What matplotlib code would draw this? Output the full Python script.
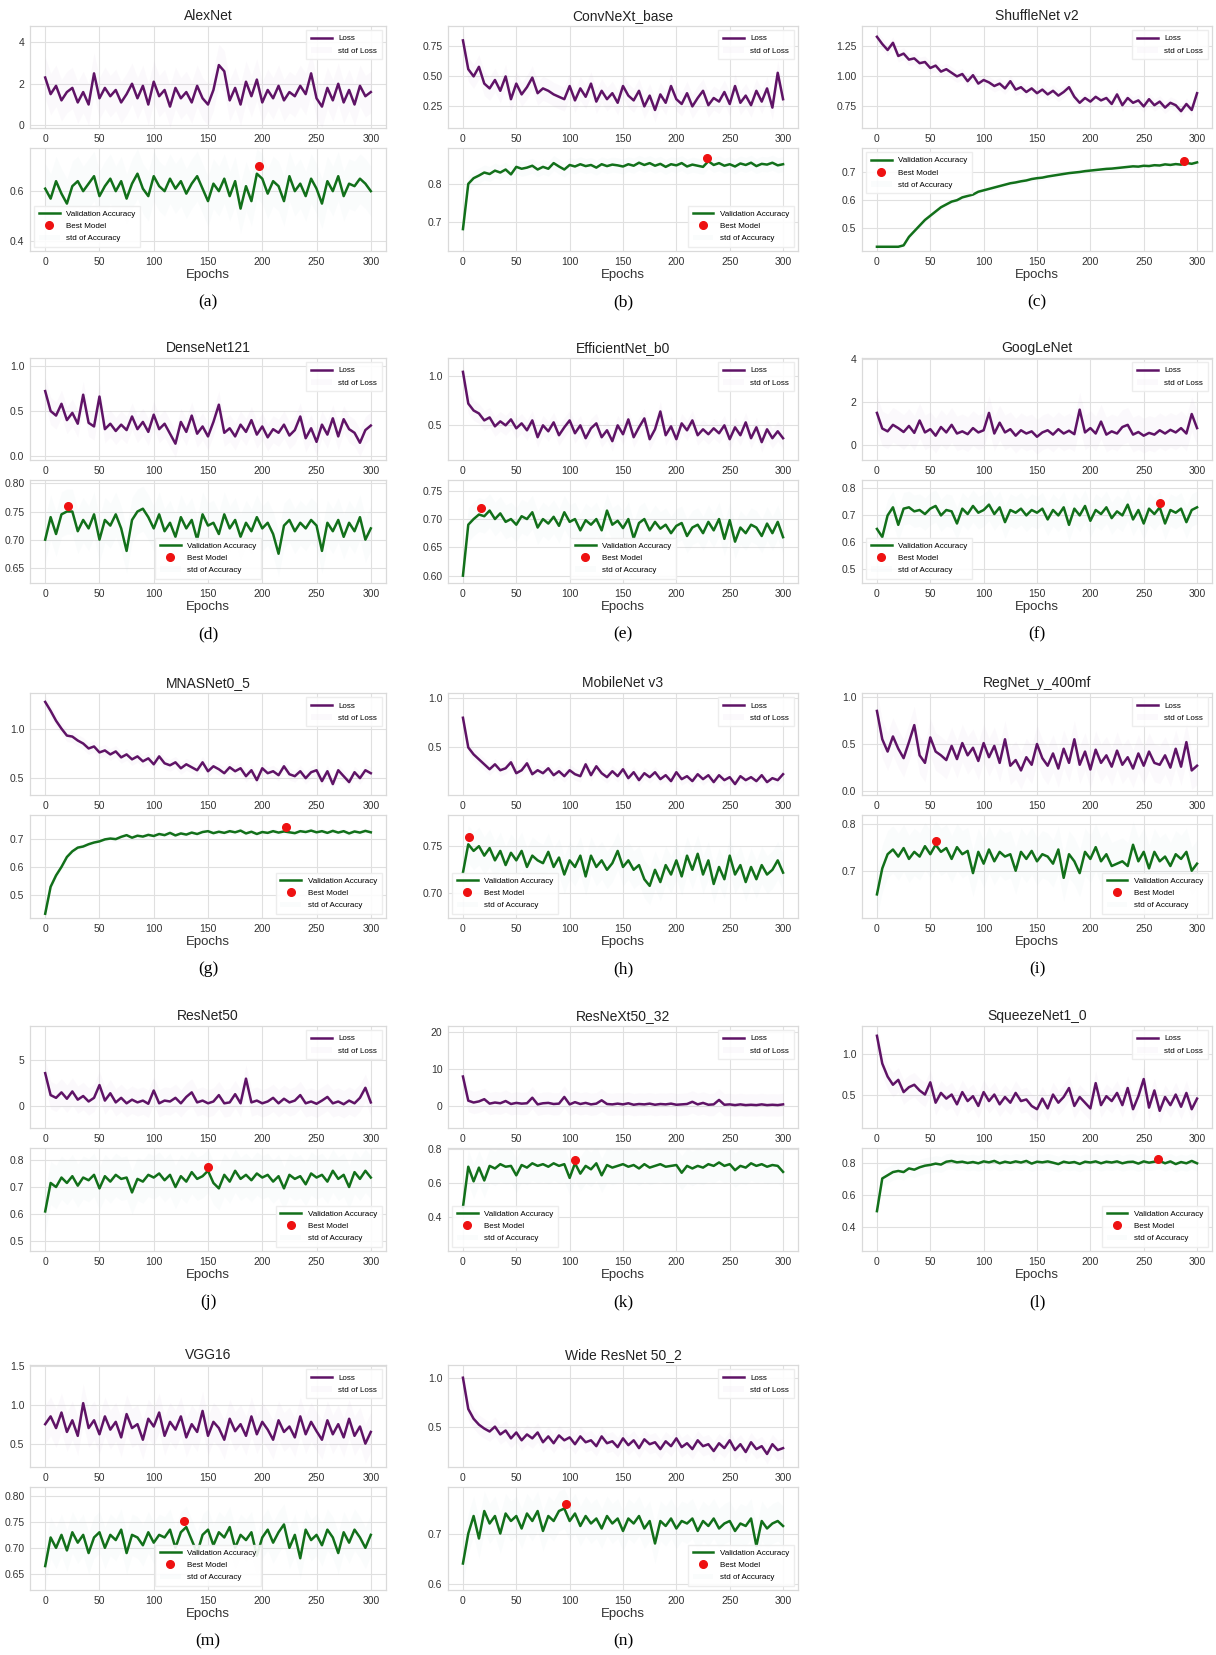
"""Training curves (loss / validation accuracy) for the 14 CNN backbones."""

import numpy as np
import matplotlib.pyplot as plt

plt.rcParams["font.family"] = ["Liberation Sans", "DejaVu Sans"]

# epochs are sampled every 5 epochs
EPOCHS = np.arange(0, 301, 5)

MODELS = ["AlexNet", "ConvNeXt_base", "ShuffleNet v2", "DenseNet121", "EfficientNet_b0",
          "GoogLeNet", "MNASNet0_5", "MobileNet v3", "RegNet_y_400mf", "ResNet50",
          "ResNeXt50_32", "SqueezeNet1_0", "VGG16", "Wide ResNet 50_2"]
CAPTIONS = ["(a)", "(b)", "(c)", "(d)", "(e)", "(f)", "(g)", "(h)", "(i)", "(j)",
            "(k)", "(l)", "(m)", "(n)"]

alexnet_loss = [2.3, 1.5, 1.9, 1.2, 1.6, 1.8, 1.1, 1.6, 1.0, 2.5,
                1.3, 1.8, 1.4, 1.7, 1.1, 1.5, 2.0, 1.3, 1.9, 1.0,
                2.1, 1.4, 1.7, 0.9, 1.8, 1.3, 1.6, 1.1, 1.9, 1.3,
                1.0, 1.7, 2.9, 2.6, 1.2, 1.8, 1.0, 2.1, 1.4, 2.2,
                1.1, 1.7, 1.3, 1.9, 1.2, 1.6, 1.4, 1.9, 1.5, 2.5,
                1.3, 0.9, 1.8, 1.2, 2.0, 1.1, 1.7, 1.0, 1.9, 1.4,
                1.6]
alexnet_acc = [0.61, 0.57, 0.64, 0.59, 0.55, 0.62, 0.64, 0.60, 0.63, 0.66,
               0.58, 0.62, 0.65, 0.60, 0.64, 0.57, 0.63, 0.67, 0.61, 0.58,
               0.66, 0.62, 0.60, 0.65, 0.61, 0.64, 0.59, 0.63, 0.66, 0.61,
               0.56, 0.63, 0.60, 0.65, 0.58, 0.64, 0.53, 0.62, 0.56, 0.67,
               0.65, 0.59, 0.64, 0.62, 0.56, 0.66, 0.60, 0.63, 0.58, 0.65,
               0.61, 0.55, 0.64, 0.60, 0.66, 0.58, 0.63, 0.62, 0.65, 0.63,
               0.60]

convnext_loss = [0.80, 0.56, 0.50, 0.58, 0.44, 0.40, 0.47, 0.38, 0.50, 0.31,
                 0.44, 0.35, 0.41, 0.49, 0.36, 0.40, 0.38, 0.35, 0.33, 0.31,
                 0.42, 0.30, 0.40, 0.33, 0.44, 0.29, 0.38, 0.31, 0.36, 0.28,
                 0.42, 0.34, 0.30, 0.38, 0.25, 0.34, 0.22, 0.35, 0.28, 0.42,
                 0.31, 0.27, 0.36, 0.25, 0.32, 0.38, 0.26, 0.32, 0.29, 0.37,
                 0.27, 0.42, 0.28, 0.34, 0.26, 0.38, 0.29, 0.40, 0.24, 0.53,
                 0.31]
convnext_acc = [0.68, 0.80, 0.815, 0.822, 0.83, 0.826, 0.835, 0.83, 0.838, 0.825,
                0.845, 0.84, 0.843, 0.848, 0.838, 0.845, 0.84, 0.855, 0.846, 0.838,
                0.85, 0.846, 0.852, 0.847, 0.85, 0.843, 0.852, 0.847, 0.851, 0.849,
                0.846, 0.852, 0.848, 0.856, 0.85, 0.855, 0.848, 0.853, 0.845, 0.852,
                0.849, 0.855, 0.846, 0.851, 0.848, 0.845, 0.86, 0.85, 0.855, 0.848,
                0.852, 0.846, 0.854, 0.85, 0.856, 0.847, 0.853, 0.851, 0.856, 0.849,
                0.852]

shufflenet_loss = [1.33, 1.27, 1.22, 1.28, 1.17, 1.19, 1.14, 1.15, 1.11, 1.12,
                   1.07, 1.09, 1.04, 1.06, 1.03, 1.00, 1.02, 0.96, 1.01, 0.94,
                   0.97, 0.95, 0.92, 0.94, 0.90, 0.96, 0.89, 0.91, 0.87, 0.90,
                   0.86, 0.89, 0.85, 0.88, 0.84, 0.87, 0.91, 0.83, 0.78, 0.82,
                   0.79, 0.83, 0.80, 0.82, 0.77, 0.85, 0.76, 0.82, 0.78, 0.80,
                   0.75, 0.81, 0.76, 0.79, 0.74, 0.78, 0.76, 0.71, 0.77, 0.72,
                   0.86]
shufflenet_acc = [0.435, 0.435, 0.435, 0.435, 0.435, 0.44, 0.47, 0.49, 0.51, 0.53,
                  0.545, 0.56, 0.575, 0.585, 0.595, 0.60, 0.61, 0.615, 0.62, 0.63,
                  0.635, 0.64, 0.645, 0.65, 0.655, 0.66, 0.663, 0.667, 0.67, 0.675,
                  0.678, 0.68, 0.684, 0.687, 0.69, 0.693, 0.696, 0.698, 0.70, 0.703,
                  0.705, 0.707, 0.709, 0.711, 0.712, 0.714, 0.716, 0.718, 0.72, 0.719,
                  0.722, 0.721, 0.724, 0.723, 0.727, 0.725, 0.728, 0.726, 0.732, 0.729,
                  0.734]

densenet_loss = [0.72, 0.50, 0.45, 0.58, 0.40, 0.48, 0.36, 0.68, 0.37, 0.33,
                 0.66, 0.30, 0.36, 0.28, 0.35, 0.29, 0.44, 0.30, 0.38, 0.27,
                 0.46, 0.30, 0.36, 0.25, 0.14, 0.38, 0.27, 0.45, 0.25, 0.33,
                 0.22, 0.38, 0.57, 0.26, 0.31, 0.22, 0.35, 0.27, 0.40, 0.24,
                 0.33, 0.21, 0.30, 0.26, 0.35, 0.23, 0.29, 0.44, 0.20, 0.31,
                 0.16, 0.35, 0.24, 0.42, 0.22, 0.41, 0.30, 0.26, 0.15, 0.29,
                 0.34]
densenet_acc = [0.70, 0.74, 0.71, 0.745, 0.75, 0.75, 0.715, 0.735, 0.72, 0.745,
                0.70, 0.735, 0.725, 0.745, 0.72, 0.68, 0.735, 0.75, 0.755, 0.74,
                0.72, 0.745, 0.715, 0.73, 0.705, 0.74, 0.72, 0.735, 0.70, 0.745,
                0.725, 0.73, 0.71, 0.745, 0.72, 0.735, 0.705, 0.73, 0.715, 0.74,
                0.72, 0.73, 0.71, 0.675, 0.725, 0.735, 0.715, 0.73, 0.72, 0.735,
                0.725, 0.68, 0.73, 0.715, 0.735, 0.705, 0.73, 0.715, 0.74, 0.70,
                0.72]

efficientnet_loss = [1.04, 0.72, 0.65, 0.62, 0.55, 0.58, 0.49, 0.54, 0.50, 0.56,
                     0.47, 0.52, 0.45, 0.55, 0.38, 0.50, 0.44, 0.53, 0.40, 0.48,
                     0.55, 0.42, 0.50, 0.37, 0.47, 0.52, 0.38, 0.45, 0.34, 0.50,
                     0.41, 0.56, 0.38, 0.48, 0.57, 0.36, 0.46, 0.64, 0.40, 0.49,
                     0.36, 0.52, 0.45, 0.55, 0.40, 0.46, 0.41, 0.47, 0.42, 0.50,
                     0.36, 0.48, 0.40, 0.53, 0.37, 0.48, 0.33, 0.46, 0.37, 0.44,
                     0.37]
efficientnet_acc = [0.60, 0.69, 0.70, 0.708, 0.705, 0.715, 0.70, 0.71, 0.695, 0.70,
                    0.69, 0.705, 0.70, 0.712, 0.685, 0.70, 0.692, 0.704, 0.688, 0.712,
                    0.695, 0.70, 0.68, 0.698, 0.69, 0.70, 0.68, 0.715, 0.69, 0.697,
                    0.684, 0.70, 0.666, 0.693, 0.70, 0.68, 0.695, 0.683, 0.69, 0.675,
                    0.688, 0.693, 0.67, 0.685, 0.69, 0.675, 0.695, 0.68, 0.70, 0.665,
                    0.698, 0.66, 0.685, 0.675, 0.69, 0.685, 0.67, 0.692, 0.675, 0.695,
                    0.668]

googlenet_loss = [1.50, 0.78, 0.65, 0.95, 0.80, 0.62, 0.90, 0.58, 1.15, 0.60,
                  0.75, 0.45, 0.85, 0.60, 0.95, 0.55, 0.65, 0.52, 0.80, 0.60,
                  0.70, 1.50, 0.55, 1.05, 0.60, 0.75, 0.45, 0.70, 0.55, 0.65,
                  0.40, 0.60, 0.70, 0.50, 0.75, 0.55, 0.68, 0.52, 1.65, 0.60,
                  0.80, 0.55, 1.10, 0.50, 0.65, 0.55, 0.85, 0.95, 0.50, 0.62,
                  0.45, 0.58, 0.50, 0.70, 0.55, 0.72, 0.60, 0.80, 0.55, 1.45,
                  0.80]
googlenet_acc = [0.65, 0.62, 0.70, 0.73, 0.665, 0.725, 0.73, 0.715, 0.72, 0.705,
                 0.725, 0.735, 0.70, 0.72, 0.715, 0.67, 0.725, 0.705, 0.735, 0.71,
                 0.72, 0.74, 0.705, 0.73, 0.675, 0.72, 0.71, 0.725, 0.70, 0.72,
                 0.71, 0.725, 0.685, 0.72, 0.70, 0.73, 0.665, 0.725, 0.70, 0.735,
                 0.68, 0.72, 0.705, 0.73, 0.69, 0.715, 0.70, 0.74, 0.685, 0.72,
                 0.67, 0.725, 0.705, 0.73, 0.67, 0.72, 0.71, 0.725, 0.675, 0.72,
                 0.73]

mnasnet_loss = [1.27, 1.18, 1.08, 1.00, 0.93, 0.92, 0.88, 0.85, 0.80, 0.82,
                0.76, 0.78, 0.74, 0.77, 0.71, 0.74, 0.69, 0.72, 0.67, 0.70,
                0.64, 0.72, 0.65, 0.63, 0.66, 0.60, 0.64, 0.61, 0.58, 0.66,
                0.57, 0.62, 0.59, 0.55, 0.61, 0.57, 0.60, 0.52, 0.58, 0.48,
                0.60, 0.55, 0.57, 0.53, 0.62, 0.54, 0.52, 0.57, 0.50, 0.56,
                0.58, 0.47, 0.57, 0.44, 0.58, 0.52, 0.46, 0.56, 0.50, 0.58,
                0.55]
mnasnet_acc = [0.435, 0.53, 0.57, 0.60, 0.635, 0.655, 0.668, 0.672, 0.68, 0.686,
               0.69, 0.697, 0.70, 0.698, 0.706, 0.712, 0.703, 0.71, 0.707, 0.713,
               0.709, 0.716, 0.712, 0.72, 0.711, 0.718, 0.714, 0.721, 0.716, 0.723,
               0.726, 0.719, 0.724, 0.72, 0.726, 0.722, 0.728, 0.718, 0.724, 0.716,
               0.723, 0.72, 0.726, 0.721, 0.725, 0.722, 0.719, 0.726, 0.723, 0.728,
               0.722, 0.726, 0.72, 0.727, 0.721, 0.726, 0.718, 0.725, 0.721, 0.727,
               0.722]

mobilenet_loss = [0.80, 0.50, 0.43, 0.38, 0.33, 0.28, 0.33, 0.27, 0.29, 0.35,
                  0.24, 0.27, 0.34, 0.23, 0.27, 0.24, 0.29, 0.22, 0.26, 0.21,
                  0.27, 0.23, 0.21, 0.33, 0.22, 0.31, 0.24, 0.20, 0.26, 0.21,
                  0.28, 0.19, 0.25, 0.17, 0.24, 0.20, 0.25, 0.18, 0.22, 0.16,
                  0.25, 0.18, 0.21, 0.16, 0.23, 0.18, 0.22, 0.15, 0.22, 0.17,
                  0.20, 0.13, 0.21, 0.17, 0.20, 0.16, 0.22, 0.15, 0.19, 0.17,
                  0.23]
mobilenet_acc = [0.722, 0.752, 0.745, 0.75, 0.74, 0.748, 0.735, 0.745, 0.73, 0.743,
                 0.735, 0.745, 0.728, 0.74, 0.735, 0.732, 0.744, 0.728, 0.738, 0.72,
                 0.735, 0.728, 0.74, 0.718, 0.74, 0.728, 0.735, 0.725, 0.732, 0.745,
                 0.728, 0.735, 0.725, 0.73, 0.715, 0.708, 0.725, 0.712, 0.73, 0.72,
                 0.735, 0.718, 0.74, 0.725, 0.742, 0.72, 0.735, 0.71, 0.728, 0.715,
                 0.74, 0.72, 0.73, 0.712, 0.728, 0.715, 0.73, 0.72, 0.725, 0.735,
                 0.722]

regnet_loss = [0.85, 0.55, 0.42, 0.58, 0.45, 0.35, 0.52, 0.70, 0.38, 0.30,
               0.57, 0.42, 0.38, 0.33, 0.48, 0.34, 0.51, 0.38, 0.46, 0.32,
               0.51, 0.36, 0.48, 0.30, 0.55, 0.27, 0.33, 0.22, 0.36, 0.28,
               0.50, 0.35, 0.27, 0.40, 0.24, 0.45, 0.30, 0.55, 0.28, 0.42,
               0.23, 0.44, 0.30, 0.38, 0.26, 0.43, 0.28, 0.36, 0.24, 0.40,
               0.27, 0.42, 0.30, 0.28, 0.38, 0.25, 0.45, 0.26, 0.52, 0.22,
               0.27]
regnet_acc = [0.65, 0.705, 0.735, 0.745, 0.73, 0.748, 0.725, 0.74, 0.73, 0.752,
              0.735, 0.755, 0.74, 0.748, 0.725, 0.75, 0.735, 0.742, 0.695, 0.74,
              0.715, 0.745, 0.72, 0.74, 0.73, 0.735, 0.70, 0.74, 0.725, 0.742,
              0.72, 0.735, 0.73, 0.715, 0.745, 0.685, 0.735, 0.72, 0.695, 0.74,
              0.725, 0.75, 0.72, 0.735, 0.71, 0.715, 0.72, 0.71, 0.755, 0.72,
              0.74, 0.705, 0.74, 0.72, 0.73, 0.71, 0.735, 0.725, 0.74, 0.70,
              0.715]

resnet50_loss = [3.60, 1.20, 0.90, 1.50, 0.80, 1.60, 0.70, 1.10, 0.50, 0.90,
                 2.30, 0.60, 1.40, 0.40, 0.90, 0.30, 0.70, 0.40, 0.60, 0.25,
                 1.70, 0.30, 0.60, 0.50, 0.90, 0.30, 1.00, 1.50, 0.40, 0.60,
                 0.30, 0.50, 1.20, 0.30, 0.40, 1.30, 0.30, 3.00, 0.40, 0.60,
                 0.30, 0.50, 0.90, 0.30, 0.80, 0.40, 0.60, 1.20, 0.30, 0.50,
                 0.25, 0.60, 1.00, 0.30, 0.50, 0.20, 0.60, 0.30, 0.90, 2.00,
                 0.40]
resnet50_acc = [0.61, 0.715, 0.70, 0.735, 0.715, 0.74, 0.705, 0.735, 0.725, 0.745,
                0.695, 0.74, 0.72, 0.745, 0.73, 0.735, 0.68, 0.73, 0.72, 0.745,
                0.735, 0.75, 0.725, 0.745, 0.70, 0.74, 0.72, 0.755, 0.73, 0.74,
                0.76, 0.715, 0.695, 0.745, 0.72, 0.76, 0.73, 0.745, 0.725, 0.75,
                0.735, 0.745, 0.72, 0.74, 0.695, 0.745, 0.73, 0.74, 0.71, 0.75,
                0.735, 0.745, 0.72, 0.76, 0.73, 0.745, 0.70, 0.755, 0.73, 0.76,
                0.735]

resnext_loss = [8.00, 1.50, 1.00, 1.30, 1.90, 0.70, 1.00, 0.80, 1.40, 0.60,
                0.90, 0.70, 0.80, 2.30, 0.50, 0.80, 0.90, 0.60, 0.70, 2.50,
                0.50, 1.10, 0.60, 0.90, 0.50, 0.70, 1.60, 0.60, 0.50, 0.70,
                0.50, 0.80, 0.40, 0.60, 0.50, 0.70, 0.40, 0.60, 0.50, 0.70,
                0.40, 0.50, 0.60, 1.20, 0.50, 0.90, 0.40, 0.50, 1.70, 0.40,
                0.50, 0.30, 0.50, 0.30, 0.40, 0.30, 0.50, 0.30, 0.40, 0.30,
                0.50]
resnext_acc = [0.46, 0.695, 0.61, 0.69, 0.615, 0.70, 0.685, 0.71, 0.695, 0.70,
               0.645, 0.705, 0.69, 0.715, 0.70, 0.71, 0.695, 0.715, 0.70, 0.71,
               0.63, 0.715, 0.655, 0.70, 0.68, 0.715, 0.645, 0.705, 0.69, 0.70,
               0.71, 0.695, 0.705, 0.685, 0.71, 0.69, 0.70, 0.71, 0.695, 0.70,
               0.705, 0.66, 0.70, 0.685, 0.70, 0.69, 0.71, 0.70, 0.72, 0.70,
               0.71, 0.675, 0.70, 0.69, 0.715, 0.70, 0.71, 0.695, 0.705, 0.70,
               0.665]

squeezenet_loss = [1.22, 0.88, 0.72, 0.62, 0.68, 0.53, 0.59, 0.62, 0.55, 0.50,
                   0.65, 0.40, 0.52, 0.45, 0.50, 0.38, 0.53, 0.42, 0.48, 0.36,
                   0.53, 0.42, 0.50, 0.38, 0.47, 0.40, 0.52, 0.42, 0.44, 0.36,
                   0.32, 0.45, 0.33, 0.50, 0.40, 0.47, 0.58, 0.36, 0.47, 0.40,
                   0.33, 0.64, 0.37, 0.48, 0.42, 0.52, 0.37, 0.58, 0.32, 0.48,
                   0.69, 0.34, 0.55, 0.30, 0.47, 0.37, 0.50, 0.35, 0.52, 0.32,
                   0.45]
squeezenet_acc = [0.50, 0.705, 0.725, 0.745, 0.752, 0.745, 0.768, 0.76, 0.775, 0.785,
                  0.79, 0.798, 0.792, 0.81, 0.815, 0.806, 0.81, 0.802, 0.808, 0.80,
                  0.812, 0.806, 0.815, 0.80, 0.81, 0.803, 0.812, 0.805, 0.815, 0.798,
                  0.81, 0.806, 0.812, 0.804, 0.795, 0.81, 0.803, 0.808, 0.796, 0.81,
                  0.805, 0.812, 0.80, 0.81, 0.805, 0.812, 0.80, 0.808, 0.81, 0.798,
                  0.812, 0.804, 0.81, 0.815, 0.80, 0.812, 0.795, 0.808, 0.80, 0.815,
                  0.80]

vgg_loss = [0.75, 0.85, 0.70, 0.90, 0.65, 0.80, 0.60, 1.02, 0.70, 0.80,
            0.62, 0.85, 0.68, 0.78, 0.58, 0.88, 0.70, 0.75, 0.55, 0.82,
            0.72, 0.90, 0.60, 0.78, 0.68, 0.85, 0.58, 0.75, 0.65, 0.92,
            0.60, 0.78, 0.70, 0.55, 0.82, 0.66, 0.75, 0.60, 0.85, 0.62,
            0.78, 0.68, 0.55, 0.80, 0.65, 0.72, 0.58, 0.85, 0.62, 0.78,
            0.66, 0.55, 0.80, 0.62, 0.75, 0.58, 0.82, 0.60, 0.72, 0.50,
            0.65]
vgg_acc = [0.665, 0.72, 0.70, 0.725, 0.695, 0.73, 0.71, 0.725, 0.69, 0.72,
           0.73, 0.70, 0.725, 0.715, 0.735, 0.69, 0.725, 0.72, 0.705, 0.73,
           0.71, 0.725, 0.72, 0.735, 0.70, 0.73, 0.74, 0.715, 0.69, 0.725,
           0.735, 0.705, 0.73, 0.72, 0.74, 0.70, 0.725, 0.715, 0.73, 0.685,
           0.72, 0.735, 0.71, 0.73, 0.745, 0.70, 0.725, 0.68, 0.735, 0.715,
           0.725, 0.705, 0.735, 0.72, 0.69, 0.73, 0.71, 0.735, 0.72, 0.70,
           0.725]

wide_resnet_loss = [1.00, 0.68, 0.58, 0.52, 0.48, 0.45, 0.50, 0.42, 0.46, 0.38,
                    0.44, 0.36, 0.42, 0.38, 0.44, 0.34, 0.40, 0.33, 0.41, 0.36,
                    0.39, 0.32, 0.40, 0.34, 0.36, 0.30, 0.40, 0.33, 0.35, 0.29,
                    0.38, 0.31, 0.36, 0.28, 0.37, 0.32, 0.34, 0.27, 0.35, 0.30,
                    0.38, 0.29, 0.33, 0.27, 0.36, 0.30, 0.32, 0.25, 0.33, 0.28,
                    0.36, 0.26, 0.32, 0.24, 0.34, 0.27, 0.30, 0.22, 0.32, 0.26,
                    0.28]
wide_resnet_acc = [0.64, 0.70, 0.735, 0.69, 0.745, 0.72, 0.735, 0.70, 0.74, 0.725,
                   0.735, 0.71, 0.74, 0.725, 0.745, 0.705, 0.735, 0.725, 0.745, 0.75,
                   0.725, 0.74, 0.715, 0.735, 0.72, 0.73, 0.71, 0.735, 0.72, 0.73,
                   0.705, 0.73, 0.72, 0.735, 0.71, 0.725, 0.68, 0.725, 0.715, 0.73,
                   0.71, 0.725, 0.72, 0.73, 0.705, 0.725, 0.715, 0.73, 0.71, 0.72,
                   0.725, 0.705, 0.72, 0.715, 0.73, 0.675, 0.725, 0.71, 0.72, 0.725,
                   0.715]

LOSSES = [alexnet_loss, convnext_loss, shufflenet_loss, densenet_loss, efficientnet_loss,
          googlenet_loss, mnasnet_loss, mobilenet_loss, regnet_loss, resnet50_loss,
          resnext_loss, squeezenet_loss, vgg_loss, wide_resnet_loss]
ACCS = [alexnet_acc, convnext_acc, shufflenet_acc, densenet_acc, efficientnet_acc,
        googlenet_acc, mnasnet_acc, mobilenet_acc, regnet_acc, resnet50_acc,
        resnext_acc, squeezenet_acc, vgg_acc, wide_resnet_acc]

# best checkpoint (epoch, validation accuracy)
BEST_EPOCH = [197, 229, 288, 21, 17, 265, 222, 6, 55, 150, 105, 263, 128, 97]
BEST_ACC = [0.70, 0.868, 0.74, 0.76, 0.72, 0.745, 0.742, 0.76, 0.763, 0.775,
            0.735, 0.828, 0.752, 0.76]

# spread over the repeated runs
LOSS_STD = [1.0, 0.10, 0.05, 0.15, 0.10, 0.8, 0.06, 0.06, 0.20, 1.5, 3.0, 0.15, 0.25, 0.10]
ACC_STD = [0.10, 0.02, 0.01, 0.04, 0.03, 0.06, 0.01, 0.02, 0.05, 0.08, 0.10, 0.05, 0.04, 0.04]

LOSS_YTICKS = [[0, 2, 4], [0.25, 0.50, 0.75], [0.75, 1.00, 1.25], [0.0, 0.5, 1.0],
               [0.5, 1.0], [0, 2, 4], [0.5, 1.0], [0.5, 1.0], [0.0, 0.5, 1.0], [0, 5],
               [0, 10, 20], [0.5, 1.0], [0.5, 1.0, 1.5], [0.5, 1.0]]
LOSS_YLIM = [(-0.13, 4.78), (0.07, 0.92), (0.57, 1.42), (-0.04, 1.085), (0.15, 1.18),
             (-0.67, 4.03), (0.33, 1.36), (0.02, 1.05), (-0.04, 1.04), (-2.4, 8.76),
             (-5.86, 21.6), (0.09, 1.34), (0.2, 1.51), (0.087, 1.13)]
ACC_YTICKS = [[0.4, 0.6], [0.7, 0.8], [0.5, 0.6, 0.7], [0.65, 0.70, 0.75, 0.80],
              [0.60, 0.65, 0.70, 0.75], [0.5, 0.6, 0.7, 0.8], [0.5, 0.6, 0.7],
              [0.70, 0.75], [0.7, 0.8], [0.5, 0.6, 0.7, 0.8], [0.4, 0.6, 0.8],
              [0.4, 0.6, 0.8], [0.65, 0.70, 0.75, 0.80], [0.6, 0.7]]
ACC_YLIM = [(0.36, 0.773), (0.622, 0.895), (0.42, 0.785), (0.623, 0.806), (0.587, 0.769),
            (0.45, 0.831), (0.42, 0.783), (0.674, 0.783), (0.60, 0.818), (0.464, 0.844),
            (0.205, 0.804), (0.25, 0.896), (0.619, 0.817), (0.587, 0.793)]
ACC_LEGEND_LOC = ["lower left", "lower right", "upper left", "lower center", "lower center",
                  "lower left", "lower right", "lower left", "lower right", "lower right",
                  "lower left", "lower right", "lower center", "lower right"]

LOSS_COLOR = "#5f1366"
ACC_COLOR = "#12701a"

W, H = 1216, 1655
COL_LEFT = [30, 448, 862]
COL_WIDTH = [356, 350, 350]
ROW_TOP = [26, 358, 693, 1026, 1365]
LOSS_H, GAP, ACC_H = 102, 20, 103

fig = plt.figure(figsize=(W / 100, H / 100), dpi=100)
fig.patch.set_facecolor("white")


def px_axes(left, top, width, height):
    return fig.add_axes([left / W, 1 - (top + height) / H, width / W, height / H])


def style_axes(ax):
    ax.set_facecolor("white")
    ax.grid(True, color="#e0e0e0", linewidth=0.8)
    ax.set_axisbelow(True)
    for spine in ax.spines.values():
        spine.set_color("#dadada")
        spine.set_linewidth(0.9)
    ax.tick_params(length=0, labelsize=7.5, colors="#333333", pad=4)
    ax.set_xlim(-14, 314)
    ax.set_xticks(range(0, 301, 50))


def legend(ax, loc):
    ax.legend(loc=loc, fontsize=5.8, frameon=True, facecolor="white", edgecolor="#ececec",
              framealpha=0.9, handlelength=2.6, borderpad=0.6, labelspacing=0.55,
              numpoints=1, fancybox=False)


for i, name in enumerate(MODELS):
    row, col = divmod(i, 3)
    left, width, top = COL_LEFT[col], COL_WIDTH[col], ROW_TOP[row]

    loss = np.asarray(LOSSES[i])
    acc = np.asarray(ACCS[i])

    ax_l = px_axes(left, top, width, LOSS_H)
    style_axes(ax_l)
    ax_l.plot(EPOCHS, loss, color=LOSS_COLOR, lw=1.8, label="Loss")
    ax_l.fill_between(EPOCHS, loss - LOSS_STD[i], loss + LOSS_STD[i],
                      color="#c9a6d0", alpha=0.06, lw=0, label="std of Loss")
    ax_l.set_ylim(*LOSS_YLIM[i])
    ax_l.set_yticks(LOSS_YTICKS[i])
    ax_l.set_title(name, fontsize=10, pad=4, color="#222222")
    legend(ax_l, "upper right")

    ax_a = px_axes(left, top + LOSS_H + GAP, width, ACC_H)
    style_axes(ax_a)
    ax_a.plot(EPOCHS, acc, color=ACC_COLOR, lw=1.8, label="Validation Accuracy")
    ax_a.plot([BEST_EPOCH[i]], [BEST_ACC[i]], "o", color="#ee1111", ms=5.5,
              label="Best Model", zorder=5)
    ax_a.fill_between(EPOCHS, acc - ACC_STD[i], acc + ACC_STD[i],
                      color="#b9d2dc", alpha=0.06, lw=0, label="std of Accuracy")
    ax_a.set_ylim(*ACC_YLIM[i])
    ax_a.set_yticks(ACC_YTICKS[i])
    ax_a.set_xlabel("Epochs", fontsize=9.5, labelpad=2, color="#333333")
    legend(ax_a, ACC_LEGEND_LOC[i])

    acc_bottom = top + LOSS_H + GAP + ACC_H
    fig.text((left + width / 2) / W, 1 - (acc_bottom + 51) / H, CAPTIONS[i],
             family=["Liberation Serif", "DejaVu Serif"], fontsize=12.5,
             ha="center", va="center")

fig.savefig("out.png", dpi=100, facecolor="white")
